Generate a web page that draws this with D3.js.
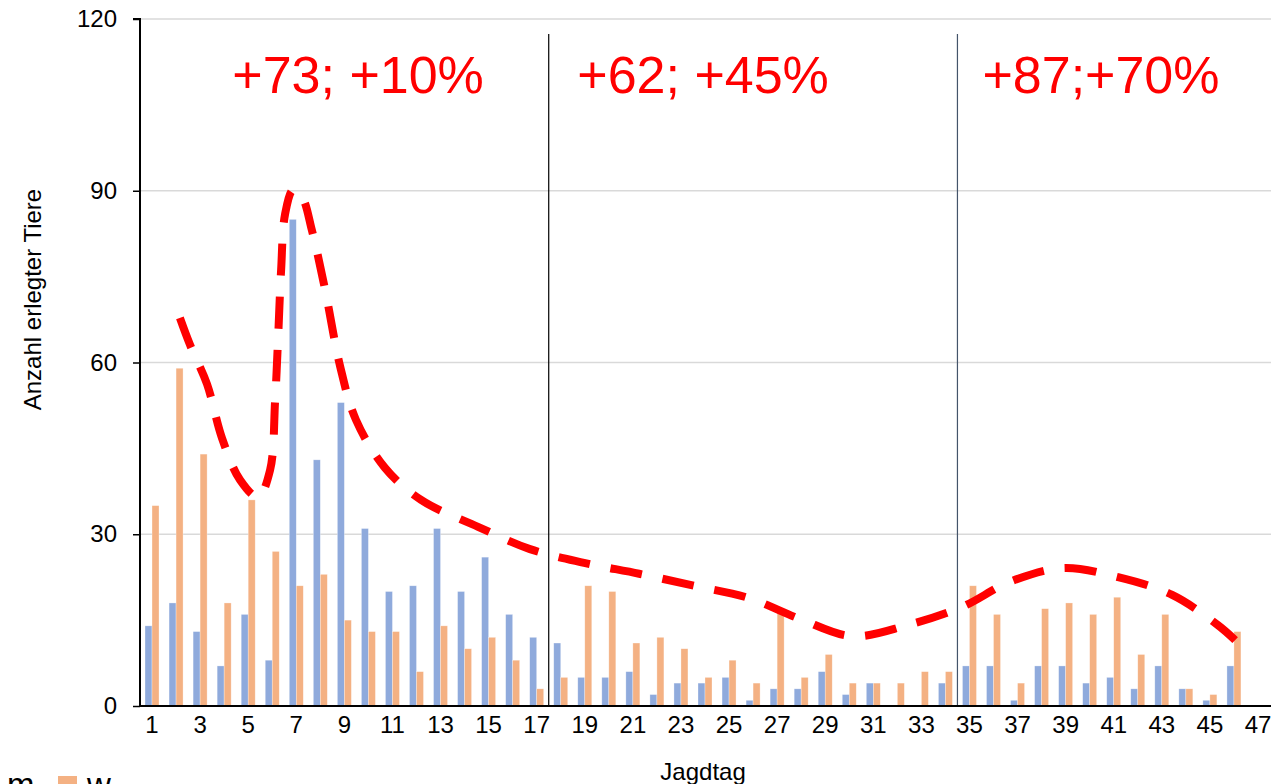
<!DOCTYPE html>
<html>
<head>
<meta charset="utf-8">
<script src="https://cdn.jsdelivr.net/npm/d3@7/dist/d3.min.js"></script>
<style>
  html, body { margin: 0; padding: 0; background: #fff; overflow: hidden; }
  svg { display: block; font-family: "Liberation Sans", Arial, sans-serif; }
</style>
</head>
<body>
<svg id="chart" width="1271" height="784"></svg>
<script>
const categories = [1,2,3,4,5,6,7,8,9,10,11,12,13,14,15,16,17,18,19,20,21,22,23,24,25,26,27,28,29,30,31,32,33,34,35,36,37,38,39,40,41,42,43,44,45,46,47];
const mValues = [14,18,13,7,16,8,85,43,53,31,20,21,31,20,26,16,12,11,5,5,6,2,4,4,5,1,3,3,6,2,4,0,0,4,7,7,1,7,7,4,5,3,7,3,1,7,null];
const wValues = [35,59,44,18,36,27,21,23,15,13,13,6,14,10,12,8,3,5,21,20,11,12,10,5,8,4,17,5,9,4,4,4,6,6,21,16,4,17,18,16,19,9,16,3,2,13,null];
const seriesNames = ["m", "w"];
const yTicks = [0, 30, 60, 90, 120];
const xTickLabels = [1,3,5,7,9,11,13,15,17,19,21,23,25,27,29,31,33,35,37,39,41,43,45,47];
const separatorsAfter = [17, 34];
// trend curve (category position, value)
const trendX = [2.16,2.58,3.29,3.91,4.66,5.41,5.91,6.12,6.24,6.37,6.53,6.86,7.24,7.65,8.2,8.82,9.48,10.69,12.19,14.56,16.72,18.97,21.26,23.54,25.79,27.95,30.12,32.4,34.69,36.69,38.89,41.18,43.43,45.34,46.05];
const trendY = [67.8,63.1,56.2,46.8,39.5,36.5,41.2,53.4,63.9,76.2,85.8,90.1,88.9,83.1,72.7,59.4,50.0,41.6,36.0,31.3,27.4,25.0,23.1,21.0,18.9,15.2,12.2,14.1,17.3,21.7,24.1,22.5,19.4,14.1,11.5];
const annotationTexts = ["+73; +10%", "+62; +45%", "+87;+70%"];
const annotationX = [9.57, 23.92, 40.47];
const annotationY = [107.1, 107.1, 107.1];

const colors = { m: "#8FAADC", w: "#F4B183" };

const svg = d3.select("#chart");
const plotLeft = 140, plotRight = 1270, plotTop = 19, plotBottom = 706;

const x0 = d3.scaleBand().domain(categories).range([plotLeft, plotRight]).paddingInner(0).paddingOuter(0);
const bw = x0.bandwidth();
const barW = 7;
const po = (bw / barW - 2) / 2;
const x1 = d3.scaleBand().domain(seriesNames).range([0, bw]).paddingInner(0).paddingOuter(po);
const y = d3.scaleLinear().domain([0, 120]).range([plotBottom, plotTop]);
// continuous x for fractional category positions
const xc = d3.scaleLinear().domain([0.5, categories.length + 0.5]).range([plotLeft, plotRight]);

// gridlines
svg.append("g").selectAll("line").data(yTicks).join("line")
  .attr("x1", plotLeft).attr("x2", 1271)
  .attr("y1", d => y(d)).attr("y2", d => y(d))
  .attr("stroke", "#d9d9d9").attr("stroke-width", 1.5);

// bars
const rows = categories.map((c, i) => ({ c, m: mValues[i], w: wValues[i] }));
const g = svg.append("g");
seriesNames.forEach(s => {
  g.selectAll("rect." + s).data(rows.filter(r => r[s] != null && r[s] > 0)).join("rect")
    .attr("class", s)
    .attr("x", r => x0(r.c) + x1(s))
    .attr("width", x1.bandwidth())
    .attr("y", r => y(r[s]))
    .attr("height", r => y(0) - y(r[s]))
    .attr("fill", colors[s])
    .attr("stroke", "#ffffff").attr("stroke-opacity", 0.5).attr("stroke-width", 0.6);
});

// separators
svg.append("g").selectAll("line").data(separatorsAfter).join("line")
  .attr("x1", d => x0(d) + bw).attr("x2", d => x0(d) + bw)
  .attr("y1", y(117.4)).attr("y2", y(0))
  .attr("stroke", (d, i) => i === 0 ? "#000" : "#44546A").attr("stroke-width", 1.2);

// y axis
const yAxis = svg.append("g").attr("transform", `translate(${plotLeft},0)`)
  .call(d3.axisLeft(y).tickValues(yTicks).tickSize(7).tickPadding(16));
yAxis.select(".domain").attr("stroke", "#000").attr("stroke-width", 2).attr("d", `M-7,${y(120)}H0V${y(0)}`);
yAxis.selectAll(".tick line").attr("stroke", "#000").attr("stroke-width", 1.5);
yAxis.selectAll(".tick text").attr("font-size", 24).attr("fill", "#000")
  .attr("font-family", "'Liberation Sans', Arial, sans-serif");

// x axis
const xAxis = svg.append("g").attr("transform", `translate(0,${plotBottom})`)
  .call(d3.axisBottom(x0).tickValues(xTickLabels).tickSize(0).tickPadding(10));
xAxis.select(".domain").attr("stroke", "#000").attr("stroke-width", 2).attr("d", `M${plotLeft},0H1271`);
xAxis.selectAll(".tick text").attr("font-size", 24).attr("fill", "#000")
  .attr("font-family", "'Liberation Sans', Arial, sans-serif");

// axis titles
svg.append("text").attr("x", xc(23.92)).attr("y", 780)
  .attr("text-anchor", "middle").attr("font-size", 24).text("Jagdtag");
svg.append("text").attr("transform", `translate(41,${y(71)}) rotate(-90)`)
  .attr("text-anchor", "middle").attr("font-size", 24).text("Anzahl erlegter Tiere");

// trend curve
const trend = trendX.map((t, i) => [t, trendY[i]]);
svg.append("path").datum(trend)
  .attr("d", d3.line().x(d => xc(d[0])).y(d => y(d[1])).curve(d3.curveCatmullRom.alpha(0.5)))
  .attr("fill", "none").attr("stroke", "#FF0000").attr("stroke-width", 8)
  .attr("stroke-dasharray", "32,21");

// annotations
svg.append("g").selectAll("text").data(annotationTexts).join("text")
  .attr("x", (d, i) => xc(annotationX[i])).attr("y", (d, i) => y(annotationY[i]))
  .attr("text-anchor", "middle").attr("font-size", 52).attr("fill", "#FF0000").text(d => d);

// legend (partly cut off at bottom)
const legend = svg.append("g");
const legendX = [-22, 58];
seriesNames.forEach((s, i) => {
  legend.append("rect").attr("x", legendX[i]).attr("y", 776).attr("width", 19).attr("height", 19).attr("fill", colors[s]);
  legend.append("text").attr("x", legendX[i] + 29).attr("y", 796).attr("font-size", 33).text(s);
});
</script>
</body>
</html>
